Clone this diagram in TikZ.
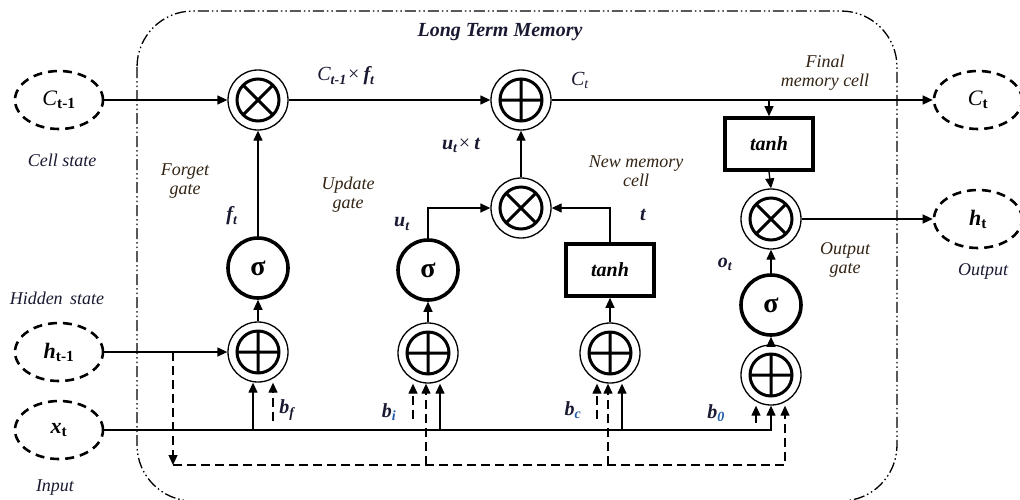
\documentclass[tikz,border=0pt]{standalone}
\usepackage{fontspec}
\setmainfont{Liberation Serif}
\usetikzlibrary{arrows.meta,shapes.geometric}
\definecolor{txt}{RGB}{25,25,50}
\definecolor{gtxt}{RGB}{50,35,20}
\definecolor{sub}{RGB}{30,90,170}

\begin{document}
\begin{tikzpicture}[x=1pt, y=-1pt, line width=1.3pt,
  ar/.style={-{Triangle[length=10pt,width=9pt]}},
  dsh/.style={dash pattern=on 9pt off 5pt},
  state/.style={ellipse, draw, dash pattern=on 9pt off 6pt, line width=2.6pt, minimum width=88pt, minimum height=58pt, inner sep=0pt, font=\fontsize{22}{24}\selectfont},
  add/.style={circle, draw, line width=1.3pt, minimum size=60pt, inner sep=0pt,
    path picture={\draw[line width=3pt, shift={(path picture bounding box.center)}] (0,0) circle (21pt) (-21pt,0) -- (21pt,0) (0,-21pt) -- (0,21pt);}},
  mul/.style={circle, draw, line width=1.3pt, minimum size=60pt, inner sep=0pt,
    path picture={\draw[line width=3pt, shift={(path picture bounding box.center)}] (0,0) circle (21pt) (-15pt,-15pt) -- (15pt,15pt) (-15pt,15pt) -- (15pt,-15pt);}},
  sig/.style={circle, draw, line width=3.6pt, minimum size=60pt, inner sep=0pt, font=\fontsize{28}{30}\selectfont\bfseries},
  tnh/.style={rectangle, draw, line width=3.6pt, minimum width=88pt, minimum height=52pt, font=\fontsize{20}{22}\selectfont\bfseries\itshape},
  lbl/.style={font=\fontsize{18}{19}\selectfont\itshape, text=txt, align=center},
  glbl/.style={lbl, text=gtxt},
  sym/.style={font=\fontsize{20}{22}\selectfont\bfseries\itshape, text=txt}]
\useasboundingbox (0,0) rectangle (1020,499);
\clip (0,0) rectangle (1020,499);

% long term memory frame
\draw[rounded corners=56pt, dash pattern=on 11pt off 3pt on 1.5pt off 3pt on 1.5pt off 3pt] (137,11) rectangle (897,501);
\node[font=\fontsize{20}{22}\selectfont\bfseries\itshape, text=txt] (ltm) at (500,32) {Long Term Memory};

% inputs and outputs
\node[state] (ctm1) at (59,100) {\textit{C}\textsubscript{\textbf{t-1}}};
\node[state] (htm1) at (59,352) {\textbf{\textit{h}}\textsubscript{\textbf{t-1}}};
\node[state] (xt) at (59,430) {\textbf{\textit{x}}\textsubscript{\textbf{t}}};
\node[state] (ct) at (978,100) {\textit{C}\textsubscript{\textbf{t}}};
\node[state] (ht) at (978,219) {\textbf{\textit{h}}\textsubscript{\textbf{t}}};

% gates
\node[mul] (mf) at (258,100) {};
\node[sig] (sf) at (258,268) {σ};
\node[add] (af) at (258,352) {};
\node[add] (ac) at (521,100) {};
\node[mul] (mu) at (521,208) {};
\node[sig] (su) at (428,270) {σ};
\node[add] (au) at (428,353) {};
\node[tnh] (tn) at (610,270) {tanh};
\node[add] (an) at (610,353) {};
\node[tnh] (to) at (769,144) {tanh};
\node[mul] (mo) at (771,219) {};
\node[sig] (so) at (771,305) {σ};
\node[add] (ao) at (771,375) {};

\coordinate (hs) at (173,352);
\coordinate (hc) at (173,465);

% cell state line
\draw[ar] (ctm1.east) -- (mf.west);
\draw[ar] (mf.east) -- (ac.west);
\draw[ar] (ac.east) -- (ct.west);
\draw[ar] (ac.east -| to.north) -- (to.north);
\draw[ar] (to.south) -- (mo.north);
\draw[ar] (mo.east) -- (ht.west);

% forget gate
\draw[ar] (sf.north) -- (mf.south);
\draw[ar] (af.north) -- (sf.south);
\draw[ar] (htm1.east) -- (af.west);

% update gate and new memory cell
\draw[ar] (mu.north) -- (ac.south);
\draw[ar] (su.north) |- (mu.west);
\draw[ar] (tn.north) |- (mu.east);
\draw[ar] (au.north) -- (su.south);
\draw[ar] (an.north) -- (tn.south);

% output gate
\draw[ar] (so.north) -- (mo.south);
\draw[ar] (ao.north) -- (so.south);

% input x_t
\draw[ar] (xt.east) -| (ao.south);
\draw[ar] ([xshift=-5pt]af.south |- xt.east) -- ([xshift=-5pt]af.south);
\draw[ar] ([xshift=12pt]au.south |- xt.east) -- ([xshift=12pt]au.south);
\draw[ar] ([xshift=12pt]an.south |- xt.east) -- ([xshift=12pt]an.south);

% hidden state (dashed)
\draw[ar, dsh] (hs) -- (hc);
\draw[ar, dsh] (hc) -| ([xshift=14pt]ao.south);
\draw[ar, dsh] ([xshift=-2pt]au.south |- hc) -- ([xshift=-2pt]au.south);
\draw[ar, dsh] ([xshift=-2pt]an.south |- hc) -- ([xshift=-2pt]an.south);

% biases
\draw[ar, dsh] ([xshift=15pt,yshift=-38pt]af.south) -- ([xshift=15pt]af.south);
\draw[ar, dsh] ([xshift=-15pt,yshift=-35pt]au.south) -- ([xshift=-15pt]au.south);
\draw[ar, dsh] ([xshift=-13pt,yshift=-35pt]an.south) -- ([xshift=-13pt]an.south);
\draw[ar] ([xshift=-15pt,yshift=-17pt]ao.south) -- ([xshift=-15pt]ao.south);

% labels
\node[lbl] (l1) at (62,160) {Cell state};
\node[lbl] (l2) at (57,298) {Hidden\, state};
\node[lbl] (l3) at (55,488) {Input};
\node[lbl] (l4) at (983,271) {Output};
\node[glbl] (l5) at (185,181) {Forget\\gate};
\node[glbl] (l6) at (348,195) {Update\\gate};
\node[glbl] (l7) at (636,171) {New memory\\cell};
\node[glbl] (l8) at (825,73) {Final\\memory cell};
\node[glbl] (l9) at (845,260) {Output\\gate};

\node[sym] (s1) at (346,76) {\textmd{\textit{C}}\textsubscript{t-1}\textmd{\texttimes}\,\textit{f}\textsubscript{t}};
\node[sym] (s2) at (580,80) {\textmd{\textit{C}\textsubscript{t}}};
\node[sym] (s3) at (461,145) {u\textsubscript{t}\textmd{\texttimes}\,t};
\node[sym] (s4) at (232,216) {f\textsubscript{t}};
\node[sym] (s5) at (402,224) {u\textsubscript{t}};
\node[sym] (s6) at (643,215) {t};
\node[sym] (s7) at (725,264) {o\textsubscript{t}};
\node[sym] (s8) at (287,410) {b\textsubscript{f}};
\node[sym] (s9) at (389,412) {b\textsubscript{\textcolor{sub}{i}}};
\node[sym] (s10) at (573,410) {b\textsubscript{\textcolor{sub}{c}}};
\node[sym] (s11) at (716,413) {b\textsubscript{\textcolor{sub}{0}}};
\end{tikzpicture}
\end{document}
